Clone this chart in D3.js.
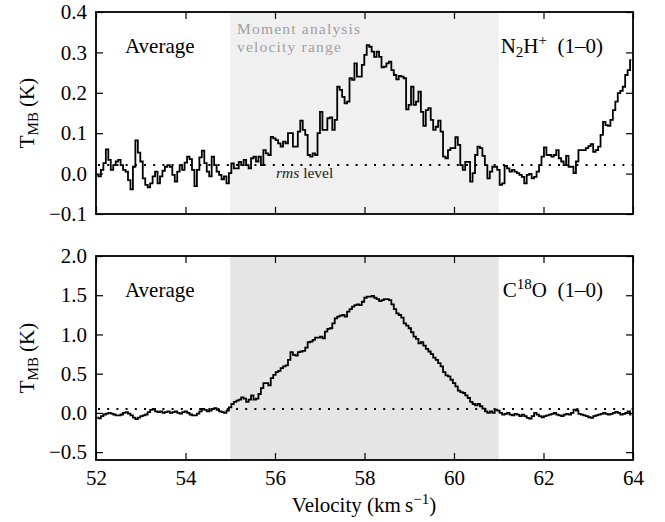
<!DOCTYPE html>
<html>
<head>
<meta charset="utf-8">
<script src="https://cdn.jsdelivr.net/npm/d3@7"></script>
<style>
  body { margin: 0; background: #fff; }
  .tick line { stroke: #000; stroke-width: 1.2px; }
  .spec { fill: none; stroke: #000; stroke-width: 1.8px; stroke-linejoin: miter; }
  .rms { stroke: #000; stroke-width: 2px; stroke-dasharray: 2 7.2; }
  .frame { fill: none; stroke: #000; stroke-width: 1.8px; }
</style>
</head>
<body>
<div id="chart"></div>
<script>
// spectra: channel values (K), channels start at 52 km/s
var velocityStart = 52, channelWidth = 0.055;

var n2hTmb = [
  // 52.0 - 55.0
  -0.003,-0.007,0.009,0.026,0.06,0.034,0.009,0.021,0.03,0.034,
  0.021,0.009,0.005,-0.016,-0.039,0.017,0.082,0.052,0.03,-0.012,
  -0.028,-0.034,-0.024,-0.007,0.005,-0.024,-0.007,0.007,0.017,0.021,
  0.017,-0.003,-0.02,0.005,0.021,0.009,0.027,0.042,0.036,0.009,
  -0.031,0.009,0.04,0.057,0.026,0.005,-0.007,0.042,0.021,0.005,
  -0.003,-0.014,-0.007,
  // 55.0 - 58.0
  -0.024,0.001,0.025,0.013,0.013,0.029,0.021,0.034,0.021,0.013,
  0.038,0.042,0.03,0.042,0.021,0.058,0.05,0.046,0.091,0.087,
  0.083,0.075,0.067,0.079,0.075,0.1,0.1,0.067,0.067,0.104,
  0.131,0.108,0.096,0.046,0.042,0.05,0.046,0.1,0.153,0.108,
  0.108,0.137,0.139,0.108,0.133,0.215,0.207,0.19,0.174,0.178,
  0.236,0.232,0.273,0.24,0.24,0.269,0.294,
  // 58.0 - 61.0
  0.318,0.314,0.302,0.289,0.302,0.289,0.263,0.265,0.273,0.277,
  0.256,0.244,0.233,0.242,0.24,0.236,0.159,0.17,0.215,0.17,
  0.178,0.203,0.153,0.118,0.157,0.162,0.133,0.108,0.116,0.131,
  0.104,0.042,0.038,0.058,0.063,0.063,0.09,0.071,0.021,0.009,
  0.029,0.029,-0.02,0.001,0.046,0.067,0.063,0.044,0.021,-0.012,
  0.005,0.017,0.017,0.009,-0.028,
  // 61.0 - 64.0
  -0.024,0.019,0.013,0.005,0.009,0.005,0.001,-0.003,-0.008,-0.024,
  -0.003,-0.001,-0.012,-0.008,0.005,0.021,0.042,0.065,0.046,0.046,
  0.042,0.046,0.058,0.038,0.03,0.021,0.044,0.017,0.017,0.001,
  0.03,0.058,0.058,0.058,0.063,0.068,0.073,0.054,0.058,0.067,
  0.096,0.128,0.12,0.118,0.133,0.157,0.178,0.199,0.205,0.215,
  0.244,0.256,0.281
];

var c18oTmb = [
  // 52.0 - 55.0
  -0.06,-0.07,-0.04,-0.02,-0.01,0.0,-0.01,-0.02,-0.03,-0.03,
  -0.02,0.0,0.01,-0.01,-0.03,-0.06,-0.08,-0.06,-0.04,-0.03,
  -0.02,0.01,0.04,0.05,0.02,0.01,0.02,0.0,0.01,0.02,
  0.0,0.01,0.02,0.0,-0.01,0.01,0.02,0.0,-0.02,-0.03,
  -0.03,-0.01,0.02,0.05,0.04,0.02,0.03,0.05,0.06,0.04,
  0.02,0.01,0.0,0.03,0.07,
  // 55.0 - 58.1
  0.114,0.14,0.157,0.169,0.199,0.182,0.14,0.169,0.224,0.169,
  0.182,0.241,0.317,0.381,0.381,0.351,0.444,0.486,0.52,0.537,
  0.571,0.592,0.605,0.677,0.774,0.74,0.732,0.774,0.783,0.791,
  0.833,0.901,0.909,0.931,0.96,0.96,0.973,0.952,1.036,1.07,
  1.079,1.142,1.206,1.227,1.239,1.248,1.227,1.29,1.324,1.354,
  1.375,1.383,1.375,1.417,1.468,1.481,
  // 58.1 - 61.0
  1.481,1.493,1.468,1.451,1.426,1.438,1.451,1.451,1.438,1.383,
  1.324,1.269,1.248,1.214,1.142,1.113,1.079,1.028,0.973,0.943,
  0.888,0.901,0.859,0.816,0.783,0.749,0.706,0.677,0.635,0.592,
  0.52,0.478,0.465,0.423,0.381,0.338,0.283,0.266,0.254,0.224,
  0.19,0.14,0.114,0.097,0.114,0.085,0.055,0.021,0.0,0.021,
  0.0,0.042,0.03,
  // 61.0 - 64.0
  0.0,-0.021,-0.013,0.0,-0.021,-0.03,-0.013,-0.021,-0.042,-0.021,
  -0.042,-0.064,-0.072,-0.042,0.0,-0.021,-0.042,-0.055,-0.042,-0.03,
  -0.021,-0.013,0.0,-0.021,-0.03,-0.042,-0.021,-0.013,-0.021,0.0,
  0.042,0.03,-0.013,-0.021,-0.03,-0.042,-0.055,-0.064,-0.042,-0.03,
  -0.021,-0.013,0.0,-0.013,-0.021,-0.013,0.0,0.013,0.0,-0.021,
  -0.013,0.0,0.021,-0.021
];

var xTicks = [52, 54, 56, 58, 60, 62, 64];
var n2hYTicks = [-0.1, 0.0, 0.1, 0.2, 0.3, 0.4];
var c18oYTicks = [-0.5, 0.0, 0.5, 1.0, 1.5, 2.0];
var momentRange = [55, 61];
var rmsLevels = [0.021, 0.05];

var FONT = "'Liberation Serif', 'Times New Roman', serif";
var W = 665, H = 522;
var left = 96, right = 633;

var svg = d3.select("#chart").append("svg")
  .attr("width", W)
  .attr("height", H)
  .attr("font-family", FONT);

var x = d3.scaleLinear().domain([52, 64]).range([left, right]);

var panels = [
  { name: "n2h", values: n2hTmb, yDomain: [-0.1, 0.4], top: 12, bottom: 214, ticks: n2hYTicks,
    rms: rmsLevels[0], shade: "#f0f0f0", showX: false },
  { name: "c18o", values: c18oTmb, yDomain: [-0.6, 2.0], top: 256, bottom: 460, ticks: c18oYTicks,
    rms: rmsLevels[1], shade: "#e5e5e5", showX: true }
];

panels.forEach(function(p) {
  var y = d3.scaleLinear().domain(p.yDomain).range([p.bottom, p.top]);
  var g = svg.append("g");

  g.append("clipPath").attr("id", "clip-" + p.name)
    .append("rect")
    .attr("x", left).attr("y", p.top)
    .attr("width", right - left).attr("height", p.bottom - p.top);

  // moment analysis range
  g.append("rect")
    .attr("x", x(momentRange[0]))
    .attr("y", p.top)
    .attr("width", x(momentRange[1]) - x(momentRange[0]))
    .attr("height", p.bottom - p.top)
    .attr("fill", p.shade);

  // rms level
  g.append("line")
    .attr("class", "rms")
    .attr("x1", left + 2).attr("x2", right)
    .attr("y1", y(p.rms)).attr("y2", y(p.rms));

  var pts = p.values.map(function(t, i) {
    return { v: velocityStart + (i + 0.5) * channelWidth, t: t };
  });

  var line = d3.line()
    .x(function(d) { return x(d.v); })
    .y(function(d) { return y(d.t); })
    .curve(d3.curveStep);

  g.append("path")
    .datum(pts)
    .attr("class", "spec")
    .attr("clip-path", "url(#clip-" + p.name + ")")
    .attr("d", line);

  // axes, ticks pointing inward on all sides
  g.append("g")
    .attr("transform", "translate(0," + p.bottom + ")")
    .call(d3.axisBottom(x).tickValues(xTicks).tickSizeInner(-7).tickSizeOuter(0).tickPadding(10)
      .tickFormat(p.showX ? d3.format("d") : ""));
  g.append("g")
    .attr("transform", "translate(0," + p.top + ")")
    .call(d3.axisTop(x).tickValues(xTicks).tickSizeInner(-7).tickSizeOuter(0).tickFormat(""));
  g.append("g")
    .attr("transform", "translate(" + left + ",0)")
    .call(d3.axisLeft(y).tickValues(p.ticks).tickSizeInner(-7).tickSizeOuter(0).tickPadding(9)
      .tickFormat(d3.format(".1f")));
  g.append("g")
    .attr("transform", "translate(" + right + ",0)")
    .call(d3.axisRight(y).tickValues(p.ticks).tickSizeInner(-7).tickSizeOuter(0).tickFormat(""));

  g.selectAll(".domain").remove();
  g.selectAll("g").attr("font-family", FONT).attr("font-size", 21);
  g.selectAll(".tick text").attr("fill", "#000");

  g.append("rect")
    .attr("class", "frame")
    .attr("x", left).attr("y", p.top)
    .attr("width", right - left).attr("height", p.bottom - p.top);

  // labels
  g.append("text")
    .attr("x", 125).attr("y", p.top + 41)
    .attr("font-size", 21)
    .text("Average");

  var lab = g.append("text")
    .attr("x", 603).attr("y", p.top + 41)
    .attr("text-anchor", "end")
    .attr("font-size", 21);
  if (p.name === "n2h") {
    lab.append("tspan").text("N");
    lab.append("tspan").attr("font-size", 15).attr("dy", 4).text("2");
    lab.append("tspan").attr("dy", -4).text("H");
    lab.append("tspan").attr("font-size", 15).attr("dy", -8).text("+");
    lab.append("tspan").attr("dy", 8).text("\u2002(1\u20130)");
  } else {
    lab.append("tspan").text("C");
    lab.append("tspan").attr("font-size", 15).attr("dy", -8).text("18");
    lab.append("tspan").attr("dy", 8).text("O\u2002(1\u20130)");
  }

  var yl = g.append("text")
    .attr("transform", "translate(34," + ((p.top + p.bottom) / 2) + ") rotate(-90)")
    .attr("text-anchor", "middle")
    .attr("font-size", 21);
  yl.append("tspan").text("T");
  yl.append("tspan").attr("font-size", 15).attr("dy", 4).text("MB");
  yl.append("tspan").attr("dy", -4).text(" (K)");
});

// annotations in the top panel
svg.append("text")
  .attr("x", 237).attr("y", 34)
  .attr("font-size", 15.5).attr("letter-spacing", 1.2).attr("fill", "#a0a0a0")
  .text("Moment analysis");
svg.append("text")
  .attr("x", 237).attr("y", 52)
  .attr("font-size", 15.5).attr("letter-spacing", 1.2).attr("fill", "#a0a0a0")
  .text("velocity range");

var rmsText = svg.append("text")
  .attr("x", 276).attr("y", 178)
  .attr("font-size", 15.5).attr("fill", "#222");
rmsText.append("tspan").attr("font-style", "italic").text("rms");
rmsText.append("tspan").text(" level");

var xl = svg.append("text")
  .attr("x", 364).attr("y", 512)
  .attr("text-anchor", "middle")
  .attr("font-size", 21);
xl.append("tspan").text("Velocity (km\u2009s");
xl.append("tspan").attr("font-size", 15).attr("dy", -8).text("\u22121");
xl.append("tspan").attr("dy", 8).text(")");
</script>
</body>
</html>
